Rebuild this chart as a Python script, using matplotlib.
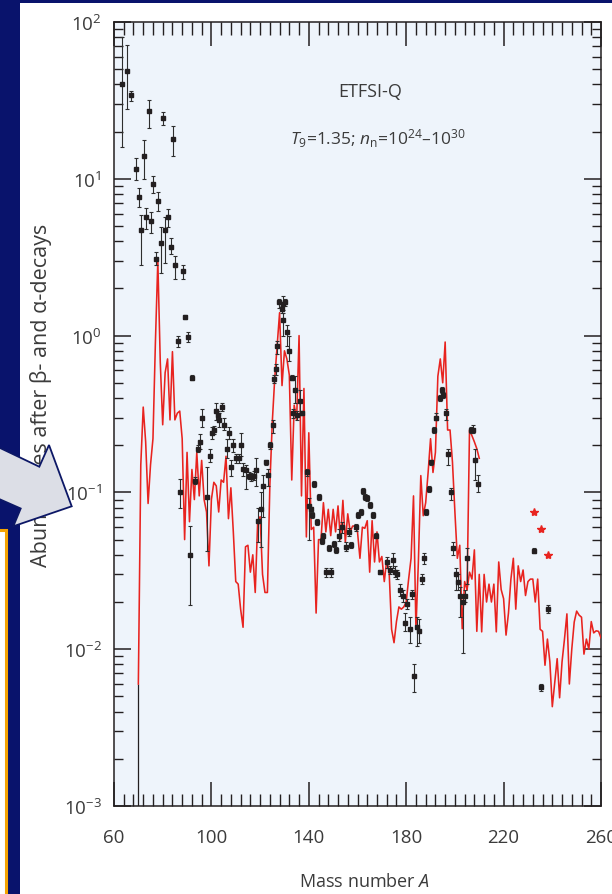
#!/usr/bin/env python3
"""ETFSI-Q r-process abundances vs mass number (slide crop)"""
import matplotlib
matplotlib.use("Agg")
import matplotlib.pyplot as plt
from matplotlib.patches import Polygon, Rectangle
from matplotlib.ticker import MultipleLocator, LogLocator, NullFormatter

plt.rcParams["font.family"] = ["Open Sans", "DejaVu Sans"]
plt.rcParams["mathtext.fontset"] = "custom"
plt.rcParams["mathtext.rm"] = "Open Sans"
plt.rcParams["mathtext.it"] = "Open Sans:italic"
plt.rcParams["axes.unicode_minus"] = False

# === calculated abundances (red line) ===
calc_A = list(range(70, 261))
calc_y = [
    0.006, 0.15, 0.35, 0.21, 0.085, 0.15, 0.22, 0.9, 3.0, 0.68,          # 70-79
    0.27, 0.58, 0.71, 0.29, 0.79, 0.29, 0.32, 0.33, 0.22, 0.05,          # 80-89
    0.18, 0.065, 0.14, 0.09, 0.18, 0.095, 0.16, 0.09, 0.075, 0.034,      # 90-99
    0.09, 0.116, 0.11, 0.075, 0.12, 0.116, 0.17, 0.068, 0.107, 0.056,    # 100-109
    0.027, 0.026, 0.018, 0.0138, 0.045, 0.046, 0.031, 0.04, 0.023, 0.065,  # 110-119
    0.07, 0.03, 0.023, 0.023, 0.11, 0.28, 0.53, 0.86, 1.4, 0.48,         # 120-129
    0.8, 0.71, 0.56, 0.12, 0.36, 0.29, 1.0, 0.095, 0.46, 0.052,          # 130-139
    0.24, 0.058, 0.06, 0.017, 0.05, 0.05, 0.086, 0.056, 0.078, 0.053,    # 140-149
    0.078, 0.056, 0.082, 0.05, 0.089, 0.048, 0.073, 0.056, 0.061, 0.061,  # 150-159
    0.056, 0.038, 0.06, 0.059, 0.066, 0.031, 0.066, 0.036, 0.056, 0.036,  # 160-169
    0.039, 0.027, 0.037, 0.031, 0.0134, 0.011, 0.015, 0.0186, 0.018, 0.0186,  # 170-179
    0.02, 0.028, 0.038, 0.095, 0.0134, 0.036, 0.128, 0.071, 0.086, 0.134,  # 180-189
    0.22, 0.134, 0.18, 0.55, 0.71, 0.5, 0.91, 0.25, 0.25, 0.156,         # 190-199
    0.075, 0.038, 0.046, 0.0135, 0.027, 0.024, 0.031, 0.028, 0.043, 0.013,  # 200-209
    0.03, 0.0129, 0.03, 0.02, 0.026, 0.02, 0.026, 0.0129, 0.036, 0.024,  # 210-219
    0.021, 0.0123, 0.017, 0.028, 0.038, 0.018, 0.034, 0.027, 0.032, 0.022,  # 220-229
    0.027, 0.028, 0.028, 0.02, 0.028, 0.0134, 0.013, 0.0079, 0.0116, 0.0083,  # 230-239
    0.0043, 0.0061, 0.0087, 0.0049, 0.0083, 0.0116, 0.0168, 0.006, 0.01, 0.0149,  # 240-249
    0.0175, 0.0165, 0.016, 0.0093, 0.0116, 0.01, 0.015, 0.0127, 0.0131, 0.013,  # 250-259
    0.0118,                                                              # 260
]
# short second branch near A~206
branch_A = [205, 206, 207, 208, 209, 210]
branch_y = [0.024, 0.25, 0.23, 0.21, 0.19, 0.165]

# === solar r-process abundances (black points with error bars) ===
obs_A = [63.3, 65.2, 67.1, 69.0, 70.1, 71.2, 72.2, 73.1, 74.2, 75.2,
         76.2, 77.2, 78.1, 79.3, 80.1, 81.1, 82.2, 83.3, 84.1, 85.2,
         86.1, 87.2, 88.2, 89.0, 90.3, 91.2, 92.2, 93.1, 94.4, 95.2,
         96.1, 98.2, 99.3, 100.2, 101.1, 102.0, 102.7, 103.3, 104.4, 105.3,
         106.3, 107.1, 107.9, 109.0, 110.1, 111.2, 112.2, 113.1, 114.3, 115.3,
         116.4, 117.4, 118.3, 119.1, 120.3, 121.1, 122.3, 123.1, 124.2, 125.1,
         125.9, 126.4, 127.1, 127.9, 128.8, 129.3, 129.6, 130.4, 131.2, 132.0,
         133.0, 133.4, 134.4, 135.1, 136.2, 137.2, 139.4, 140.1, 140.9, 141.5,
         142.3, 143.3, 144.2, 145.3, 146.0, 147.1, 148.3, 149.2, 150.4, 151.2,
         152.4, 153.5, 155.3, 156.7, 157.2, 159.3, 160.4, 161.3, 162.2, 163.1,
         163.8, 165.3, 166.3, 167.4, 169.3, 172.3, 173.4, 174.5, 175.4, 176.4,
         177.5, 178.5, 179.4, 180.2, 181.4, 182.3, 183.3, 184.4, 185.4, 186.4,
         187.3, 188.1, 189.4, 190.2, 191.4, 192.2, 193.9, 194.6, 195.3, 196.2,
         197.3, 198.3, 199.4, 200.5, 201.1, 202.1, 203.2, 204.1, 205.1, 206.5,
         207.3, 208.3, 209.3, 232.3, 235.3, 238.2]
obs_y = [40, 49, 34, 11.5, 7.6, 4.7, 14.0, 5.7, 27.2, 5.4,
         9.2, 3.1, 7.25, 3.9, 24.4, 4.7, 5.7, 3.7, 17.9, 2.8,
         0.93, 0.10, 2.57, 1.31, 0.98, 0.04, 0.54, 0.119, 0.19, 0.21,
         0.30, 0.093, 0.17, 0.24, 0.25, 0.33, 0.31, 0.29, 0.35, 0.27,
         0.19, 0.24, 0.145, 0.2, 0.165, 0.165, 0.2, 0.141, 0.138, 0.128,
         0.125, 0.128, 0.138, 0.066, 0.078, 0.11, 0.156, 0.13, 0.2, 0.27,
         0.53, 0.61, 0.86, 1.63, 1.48, 1.25, 1.59, 1.63, 1.05, 0.8,
         0.54, 0.32, 0.45, 0.31, 0.38, 0.32, 0.134, 0.082, 0.078, 0.072,
         0.113, 0.065, 0.093, 0.049, 0.053, 0.031, 0.044, 0.031, 0.047, 0.043,
         0.053, 0.06, 0.045, 0.056, 0.046, 0.06, 0.072, 0.075, 0.102, 0.093,
         0.092, 0.083, 0.072, 0.053, 0.031, 0.036, 0.032, 0.037, 0.031, 0.03,
         0.024, 0.022, 0.0148, 0.0195, 0.0135, 0.0225, 0.0067, 0.0138, 0.013, 0.028,
         0.038, 0.075, 0.105, 0.156, 0.25, 0.30, 0.40, 0.45, 0.42, 0.32,
         0.176, 0.1, 0.044, 0.030, 0.027, 0.022, 0.02, 0.022, 0.038, 0.25,
         0.25, 0.16, 0.113, 0.0425, 0.0057, 0.018]
obs_lo = [16, 28, 31.5, 9.8, 6.6, 2.8, 10, 4.8, 21, 4.5,
          8.1, 2.8, 6.2, 2.5, 22, 2.9, 4.9, 3.3, 14, 2.3,
          0.84, 0.079, 2.3, 1.27, 0.91, 0.019, 0.52, 0.113, 0.18, 0.19,
          0.26, 0.042, 0.157, 0.22, 0.235, 0.29, 0.29, 0.26, 0.33, 0.25,
          0.165, 0.22, 0.128, 0.18, 0.155, 0.155, 0.17, 0.128, 0.105, 0.122,
          0.118, 0.12, 0.11, 0.048, 0.045, 0.07, 0.15, 0.11, 0.19, 0.24,
          0.5, 0.56, 0.76, 1.5, 1.4, 1.0, 1.45, 1.55, 0.86, 0.69,
          0.52, 0.3, 0.37, 0.29, 0.31, 0.31, 0.128, 0.05, 0.075, 0.069,
          0.108, 0.062, 0.089, 0.047, 0.051, 0.029, 0.042, 0.029, 0.045, 0.041,
          0.049, 0.055, 0.042, 0.053, 0.044, 0.057, 0.069, 0.072, 0.098, 0.089,
          0.088, 0.079, 0.069, 0.051, 0.03, 0.033, 0.030, 0.033, 0.029, 0.028,
          0.022, 0.02, 0.013, 0.018, 0.011, 0.021, 0.0053, 0.0105, 0.011, 0.026,
          0.035, 0.072, 0.1, 0.15, 0.24, 0.29, 0.38, 0.43, 0.4, 0.29,
          0.15, 0.09, 0.04, 0.024, 0.024, 0.016, 0.0095, 0.02, 0.026, 0.24,
          0.24, 0.12, 0.1, 0.041, 0.0054, 0.017]
obs_hi = [80, 71, 36.5, 13.6, 8.7, 5.9, 17.6, 6.5, 32, 6.1,
          10.4, 3.4, 8.2, 4.9, 26.6, 5.7, 6.4, 4.2, 21.7, 3.2,
          1.0, 0.122, 2.8, 1.35, 1.06, 0.061, 0.56, 0.125, 0.2, 0.236,
          0.34, 0.145, 0.19, 0.26, 0.265, 0.37, 0.33, 0.32, 0.37, 0.3,
          0.22, 0.26, 0.16, 0.22, 0.175, 0.175, 0.24, 0.155, 0.15, 0.135,
          0.132, 0.137, 0.165, 0.08, 0.10, 0.13, 0.16, 0.14, 0.21, 0.29,
          0.56, 0.66, 0.92, 1.7, 1.55, 1.4, 1.8, 1.72, 1.16, 1.0,
          0.56, 0.34, 0.55, 0.33, 0.45, 0.33, 0.14, 0.092, 0.081, 0.075,
          0.118, 0.068, 0.097, 0.051, 0.055, 0.033, 0.046, 0.033, 0.049, 0.045,
          0.058, 0.065, 0.048, 0.059, 0.048, 0.063, 0.075, 0.078, 0.106, 0.097,
          0.096, 0.087, 0.075, 0.055, 0.032, 0.039, 0.034, 0.041, 0.034, 0.032,
          0.026, 0.024, 0.017, 0.021, 0.016, 0.024, 0.0081, 0.016, 0.0155, 0.03,
          0.041, 0.078, 0.11, 0.162, 0.26, 0.32, 0.42, 0.47, 0.44, 0.34,
          0.19, 0.107, 0.048, 0.033, 0.03, 0.025, 0.022, 0.024, 0.044, 0.26,
          0.27, 0.19, 0.13, 0.044, 0.006, 0.019]

# lone bar dropping to the axis floor at A=70
floor_A = [70]
floor_top = [0.006]

# red stars (actinide estimates)
star_A = [232.3, 235.2, 238.2]
star_y = [0.0755, 0.058, 0.04]

NAVY = "#09136c"
INK = "#231f20"
TXT = "#3b3b3b"
W, H = 612, 895

fig = plt.figure(figsize=(W / 100, H / 100), dpi=100)
fig.patch.set_facecolor(NAVY)

def px(x, y):
    return (x / W, 1 - y / H)

# white slide panel
fig.patches.append(Rectangle(px(20, 895), (W - 20) / W, (895 - 4) / H,
                             transform=fig.transFigure, facecolor="white",
                             edgecolor="none", zorder=-2))

ax = fig.add_axes([114 / W, 1 - 807 / H, (601 - 114) / W, (807 - 23) / H])
ax.set_facecolor("#eef4fb")

ax.plot(calc_A, calc_y, color="#e8231f", lw=1.15, zorder=3)
ax.plot(branch_A, branch_y, color="#e8231f", lw=1.15, zorder=3)
ax.vlines(floor_A, 1e-3, floor_top, color=INK, lw=0.9, zorder=2)

yerr = [[y - lo for y, lo in zip(obs_y, obs_lo)],
        [hi - y for y, hi in zip(obs_y, obs_hi)]]
ax.errorbar(obs_A, obs_y, yerr=yerr, fmt="s", ms=2.2, color=INK,
            ecolor="#2e2e2e", elinewidth=0.8, capsize=1.6, capthick=0.8, zorder=4)
ax.plot(star_A, star_y, "*", color="#e8231f", ms=6, mec="#e8231f", zorder=4)

ax.set_yscale("log")
ax.set_ylim(1e-3, 1e2)
ax.set_xlim(60, 260)
ax.set_xticks([60, 100, 140, 180, 220, 260])
ax.xaxis.set_minor_locator(MultipleLocator(4))
ax.yaxis.set_minor_locator(LogLocator(base=10, subs=range(2, 10)))
ax.yaxis.set_minor_formatter(NullFormatter())

for s in ax.spines.values():
    s.set_color(INK)
    s.set_linewidth(1.1)
ax.tick_params(which="both", direction="in", top=True, right=True, color=INK,
               labelcolor=TXT, labelsize=13.5)
ax.tick_params(axis="x", which="major", length=17, width=1.1, pad=16)
ax.tick_params(axis="x", which="minor", length=9, width=1.0)
ax.tick_params(axis="y", which="major", length=12.5, width=1.1, pad=9)
ax.tick_params(axis="y", which="minor", length=6.5, width=1.0)

ax.set_xlabel("Mass number $\\mathit{A}$", fontsize=13, color=TXT)
ax.xaxis.set_label_coords(0.515, -0.084)
ax.set_ylabel("Abundances after β- and α-decays", fontsize=15.5, color=TXT)
ax.yaxis.set_label_coords(-0.127, 0.5255)

ax.text(0.526, 0.912, "ETFSI-Q", transform=ax.transAxes, ha="center", va="center",
        fontsize=13, color=TXT)
ax.text(0.542, 0.853, "$\\mathit{T}_9$=1.35; $\\mathit{n}_\\mathrm{n}$=10$^{24}$–10$^{30}$",
        transform=ax.transAxes, ha="center", va="center", fontsize=12.5, color=TXT)

# slide arrow pointing into the axis label
arrow = [px(-2, 448), px(39.3, 467.7), px(49, 446), px(71.7, 507.3),
         px(13.3, 527.3), px(20.7, 509.5), px(-2, 499.5)]
fig.patches.append(Polygon(arrow, closed=True, transform=fig.transFigure,
                           facecolor="#dcdee6", edgecolor="#0c1766", lw=1.3, zorder=5))

# orange framed box at the lower left edge
fig.patches.append(Rectangle(px(-10, 905), 16.2 / W, (905 - 531) / H,
                             transform=fig.transFigure, facecolor="white",
                             edgecolor="#f5a300", lw=2.2, zorder=5))

plt.savefig("out.png", dpi=100)
plt.close()
print("Saved: out.png")
